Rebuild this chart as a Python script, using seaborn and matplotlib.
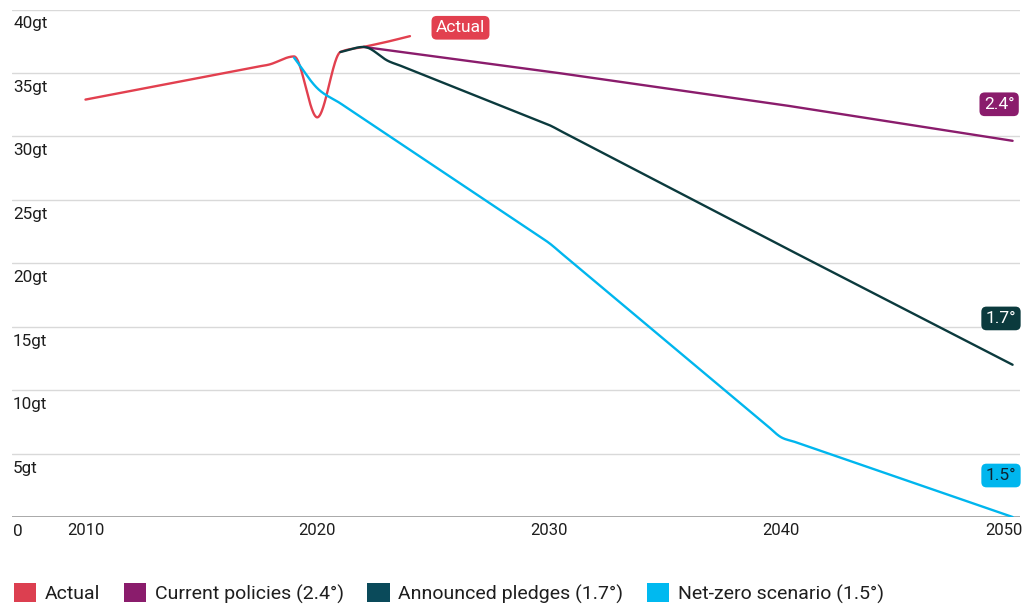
import numpy as np
import pandas as pd
import matplotlib
matplotlib.use("Agg")
import matplotlib.pyplot as plt
import matplotlib.transforms as mtransforms
from matplotlib.patches import Patch
import seaborn as sns

# Emissions, gigatonnes CO2 per year
actual_years = [2010, 2018, 2019, 2020, 2021, 2022, 2023, 2024]
actual_gt = [32.9, 35.7, 36.3, 31.5, 36.65, 37.05, 37.45, 37.9]

policies_years = [2022, 2030, 2040, 2050]
policies_gt = [37.05, 35.1, 32.5, 29.65]

pledges_years = [2021, 2022, 2023, 2030, 2040, 2050]
pledges_gt = [36.65, 37.05, 36.0, 30.9, 21.4, 12.0]

netzero_years = [2019, 2020, 2021, 2030, 2040, 2050]
netzero_gt = [36.2, 33.8, 32.6, 21.6, 6.3, 0.0]

series_names = ["Actual", "Current policies (2.4°)",
                "Announced pledges (1.7°)", "Net-zero scenario (1.5°)"]
end_tags = ["Actual", "2.4°", "1.7°", "1.5°"]

y_ticks = [0, 5, 10, 15, 20, 25, 30, 35, 40]
y_tick_labels = ["0", "5gt", "10gt", "15gt", "20gt", "25gt", "30gt", "35gt", "40gt"]
x_ticks = [2010, 2020, 2030, 2040, 2050]
x_tick_labels = ["2010", "2020", "2030", "2040", "2050"]

line_colors = ["#E2404F", "#8A1C6C", "#0B3A3D", "#00B6EE"]
swatch_colors = ["#DC3F50", "#8A1C6C", "#0A4A5A", "#00B9F0"]
tag_text_colors = ["white", "white", "white", "#0F2230"]


def _hermite(x0, y0, m0, x1, y1, m1, n):
    t = np.linspace(0, 1, n)[1:]
    h = x1 - x0
    h00 = 2 * t**3 - 3 * t**2 + 1
    h10 = t**3 - 2 * t**2 + t
    h01 = -2 * t**3 + 3 * t**2
    h11 = t**3 - t**2
    return x0 + t * h, h00 * y0 + h10 * h * m0 + h01 * y1 + h11 * h * m1


def rounded_curve(xs, ys, r=0.6, n=24):
    """Line through the points: straight on long spans, smooth monotone
    bends at the vertices and on short spans."""
    x = np.asarray(xs, float)
    y = np.asarray(ys, float)
    h = np.diff(x)
    s = np.diff(y) / h
    m = np.zeros_like(y)
    m[0], m[-1] = s[0], s[-1]
    for i in range(1, len(x) - 1):
        p = (s[i - 1] * h[i] + s[i] * h[i - 1]) / (h[i - 1] + h[i])
        m[i] = (np.sign(s[i - 1]) + np.sign(s[i])) * min(abs(s[i - 1]), abs(s[i]), 0.5 * abs(p))
    px, py = [x[0]], [y[0]]
    for i in range(len(x) - 1):
        if h[i] > 2 * r + 0.2:
            xa, ya = x[i] + r, y[i] + s[i] * r
            xb, yb = x[i + 1] - r, y[i + 1] - s[i] * r
            for seg in (_hermite(x[i], y[i], m[i], xa, ya, s[i], n),
                        ([xb], [yb]),
                        _hermite(xb, yb, s[i], x[i + 1], y[i + 1], m[i + 1], n)):
                px.extend(seg[0])
                py.extend(seg[1])
        else:
            sx, sy = _hermite(x[i], y[i], m[i], x[i + 1], y[i + 1], m[i + 1], 2 * n)
            px.extend(sx)
            py.extend(sy)
    return np.array(px), np.array(py)


series = [(actual_years, actual_gt), (policies_years, policies_gt),
          (pledges_years, pledges_gt), (netzero_years, netzero_gt)]

frames = []
for name, (yrs, vals) in zip(series_names, series):
    sx, sy = rounded_curve(yrs, vals)
    frames.append(pd.DataFrame({"year": sx, "gt": sy, "series": name}))
df = pd.concat(frames, ignore_index=True)

sns.set_theme(style="white")
plt.rcParams["font.family"] = ["Roboto", "DejaVu Sans"]

fig = plt.figure(figsize=(10.36, 6.06), dpi=100)
ax = fig.add_axes([12 / 1036, 1 - 517 / 606, (1020 - 12) / 1036, (517 - 9.5) / 606])

sns.lineplot(data=df, x="year", y="gt", hue="series", units="series",
             estimator=None, sort=False, palette=dict(zip(series_names, line_colors)),
             linewidth=1.7, legend=False, ax=ax, zorder=3)

ax.set_xlim(2006.83, 2050.32)
ax.set_ylim(0, 40)
for s in ax.spines.values():
    s.set_visible(False)

# horizontal gridlines with a darker baseline
for v in y_ticks[1:]:
    ax.axhline(v, color="#D9D9D9", lw=1.0, zorder=1)
ax.axhline(0, color="#A9A9A9", lw=1.4, zorder=2)

ax.set_yticks([])
ax.set_ylabel("")
ax.set_xlabel("")
for v, lab in zip(y_ticks, y_tick_labels):
    ax.annotate(lab, xy=(0, v), xycoords=("axes fraction", "data"),
                xytext=(0.8, -5), textcoords="offset points",
                ha="left", va="top", fontsize=12.3, color="#1E1E1E")

ax.set_xticks(x_ticks)
ax.set_xticklabels(x_tick_labels, fontsize=12, color="#1E1E1E")
ax.tick_params(axis="x", length=0, pad=4.5)
last = ax.get_xticklabels()[-1]
last.set_transform(last.get_transform() +
                   mtransforms.ScaledTranslation(-9 / 100, 0, fig.dpi_scale_trans))

# end-of-line tags
tag_pos = [(2026.18, 38.56), (2049.42, 32.53), (2049.5, 15.65), (2049.5, 3.27)]
for (tx, ty), tag, bg, fg in zip(tag_pos, end_tags, line_colors, tag_text_colors):
    ax.text(tx, ty, tag, ha="center", va="center", fontsize=12.5, color=fg,
            zorder=5,
            bbox=dict(boxstyle="round,pad=0.25,rounding_size=0.3", fc=bg, ec="none"))

handles = [Patch(facecolor=c, edgecolor="none") for c in swatch_colors]
fig.legend(handles, series_names, loc="lower left", bbox_to_anchor=(0.006, -0.009),
           ncol=4, frameon=False, fontsize=14, handlelength=1.15, handleheight=1.15,
           handletextpad=0.45, columnspacing=1.2, borderaxespad=0.0,
           labelcolor="#1E1E1E")

fig.savefig("out.png", dpi=100, facecolor="white")
